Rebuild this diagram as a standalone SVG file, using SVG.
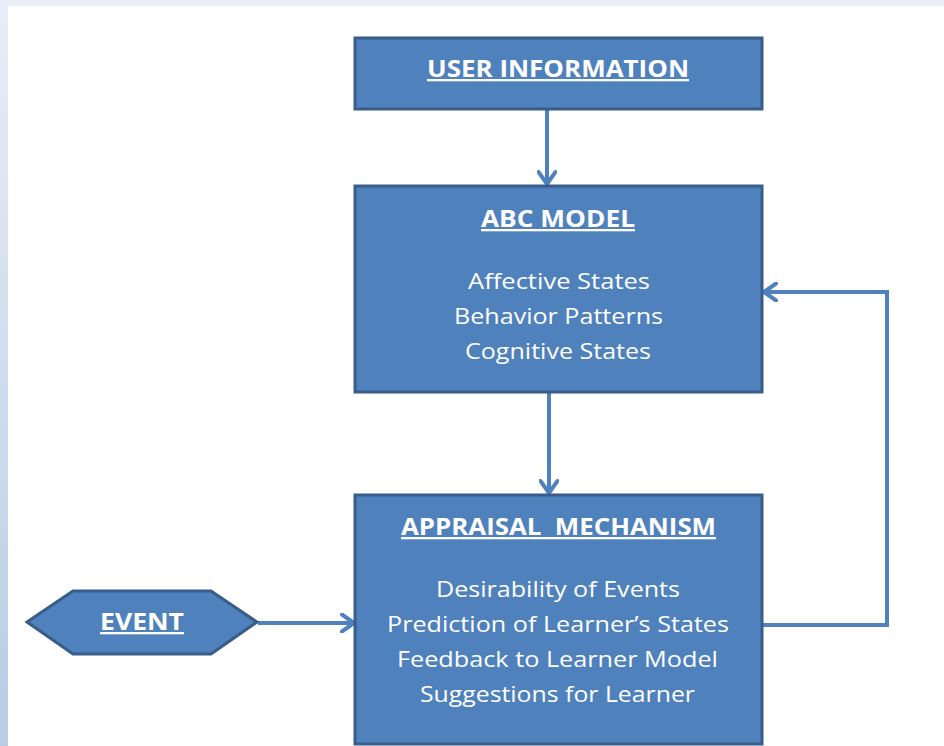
<svg xmlns="http://www.w3.org/2000/svg" width="944" height="746" viewBox="0 0 944 746">
  <defs>
    <linearGradient id="side" x1="0" y1="0" x2="0" y2="1">
      <stop offset="0" stop-color="#e8eef7"/>
      <stop offset="1" stop-color="#b9cce4"/>
    </linearGradient>
    <marker id="chev" viewBox="0 0 20 20" refX="17" refY="10" markerWidth="20" markerHeight="20" markerUnits="userSpaceOnUse" orient="auto">
      <path d="M5,1.5 L17,10 L5,18.5" fill="none" stroke="#4f81bd" stroke-width="4" stroke-linecap="round" stroke-linejoin="round"/>
    </marker>
    <style>
      .box { fill: #4f81bd; stroke: #385d8a; stroke-width: 3; }
      .conn { fill: none; stroke: #4f81bd; stroke-width: 4; marker-end: url(#chev); }
      .title { font-family: "Open Sans", Lato, "Liberation Sans", sans-serif; font-weight: bold; font-size: 23px; fill: #ffffff; text-decoration: underline; text-anchor: middle; }
      .item { font-family: "Open Sans", Lato, "Liberation Sans", sans-serif; font-size: 21px; fill: #ffffff; text-anchor: middle; }
    </style>
  </defs>
  <rect x="0" y="0" width="944" height="746" fill="#ffffff"/>
  <rect x="0" y="0" width="944" height="6" fill="#e9eef7"/>
  <rect x="0" y="0" width="8" height="746" fill="url(#side)"/>

  <g id="connectors">
    <path class="conn" d="M547,110 L547,184"/>
    <path class="conn" d="M549,393 L549,493"/>
    <path class="conn" d="M258,623 L354,623"/>
    <path class="conn" d="M763,625 L887,625 L887,292 L764,292"/>
  </g>

  <g id="user-information">
    <rect class="box" x="355" y="38" width="407" height="71"/>
    <text class="title" x="558" y="77" textLength="262" lengthAdjust="spacingAndGlyphs">USER INFORMATION</text>
  </g>

  <g id="abc-model">
    <rect class="box" x="355" y="186" width="407" height="206"/>
    <text class="title" x="558" y="227" textLength="154" lengthAdjust="spacingAndGlyphs">ABC MODEL</text>
    <text class="item" x="559" y="289" textLength="182" lengthAdjust="spacingAndGlyphs">Affective States</text>
    <text class="item" x="558.5" y="324" textLength="209" lengthAdjust="spacingAndGlyphs">Behavior Patterns</text>
    <text class="item" x="558" y="359" textLength="186" lengthAdjust="spacingAndGlyphs">Cognitive States</text>
  </g>

  <g id="appraisal-mechanism">
    <rect class="box" x="355" y="495" width="407" height="249"/>
    <text class="title" x="558.5" y="535" textLength="315" lengthAdjust="spacingAndGlyphs" xml:space="preserve">APPRAISAL  MECHANISM</text>
    <text class="item" x="558" y="597" textLength="244" lengthAdjust="spacingAndGlyphs">Desirability of Events</text>
    <text class="item" x="558" y="632" textLength="342" lengthAdjust="spacingAndGlyphs">Prediction of Learner’s States</text>
    <text class="item" x="557.5" y="667" textLength="321" lengthAdjust="spacingAndGlyphs">Feedback to Learner Model</text>
    <text class="item" x="557.5" y="702" textLength="275" lengthAdjust="spacingAndGlyphs">Suggestions for Learner</text>
  </g>

  <g id="event">
    <polygon class="box" points="27,622 73,591 211,591 257,622 211,654 73,654"/>
    <text class="title" x="142" y="630" textLength="84" lengthAdjust="spacingAndGlyphs">EVENT</text>
  </g>
</svg>
